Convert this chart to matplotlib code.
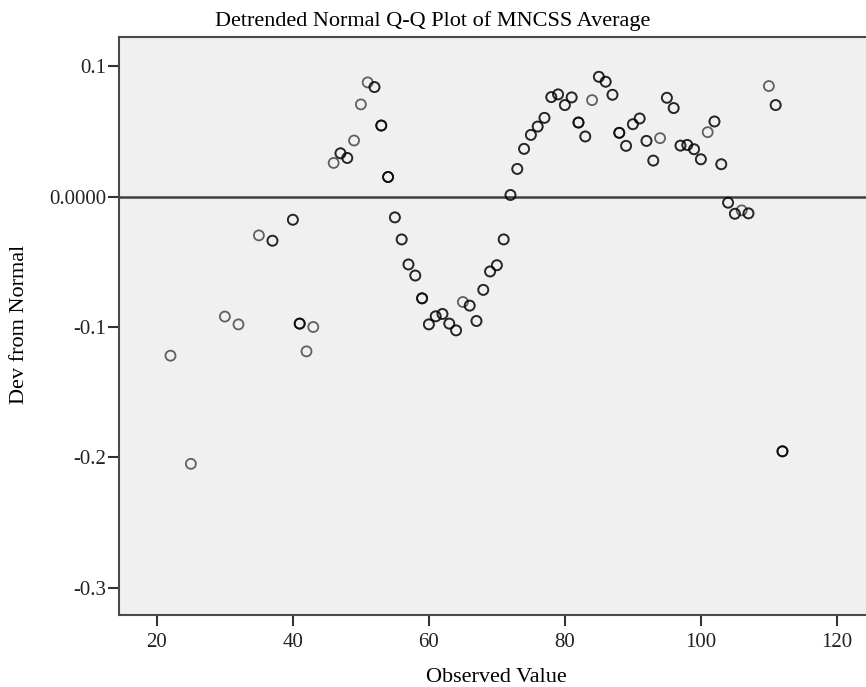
import matplotlib
matplotlib.use("Agg")
import matplotlib.pyplot as plt
import numpy as np

# observed value, deviation from normal, and number of cases drawn at that spot
observed = [22, 25, 30, 32, 35, 37, 40, 41, 42, 43, 46, 47, 48, 49, 50, 51, 52, 53, 54, 55,
            56, 57, 58, 59, 60, 61, 62, 63, 64, 65, 66, 67, 68, 69, 70, 71, 72, 73, 74, 75,
            76, 77, 78, 79, 80, 81, 82, 83, 84, 85, 86, 87, 88, 89, 90, 91, 92, 93, 94, 95,
            96, 97, 98, 99, 100, 101, 102, 103, 104, 105, 106, 107, 110, 111, 112]
dev = [-0.122, -0.205, -0.092, -0.098, -0.0297, -0.0338, -0.0177, -0.0974, -0.1187, -0.100,
       0.0259, 0.0333, 0.0297, 0.0431, 0.0708, 0.0877, 0.0841, 0.0546, 0.0151, -0.0159,
       -0.0328, -0.052, -0.0605, -0.078, -0.098, -0.0918, -0.090, -0.0974, -0.1026, -0.0808,
       -0.0836, -0.0954, -0.0715, -0.0574, -0.0526, -0.0328, 0.0013, 0.0213, 0.0367, 0.0474,
       0.0538, 0.0605, 0.0764, 0.0785, 0.0703, 0.0762, 0.0569, 0.0462, 0.0741, 0.092,
       0.0882, 0.0782, 0.049, 0.039, 0.0556, 0.060, 0.0428, 0.0277, 0.0449, 0.0759,
       0.068, 0.0392, 0.0397, 0.0364, 0.0287, 0.0495, 0.0577, 0.0249, -0.0046, -0.0131,
       -0.0105, -0.0128, 0.0849, 0.0703, -0.1954]
cases = [1, 1, 1, 1, 1, 2, 2, 3, 1, 1, 1, 2, 2, 1, 1, 1, 2, 3, 3, 2,
         2, 2, 2, 3, 2, 2, 2, 2, 2, 1, 2, 2, 2, 2, 2, 2, 2, 2, 2, 2,
         2, 2, 2, 2, 2, 2, 3, 2, 1, 2, 2, 2, 3, 2, 2, 2, 2, 2, 1, 2,
         2, 2, 2, 2, 2, 1, 2, 2, 2, 2, 1, 2, 1, 2, 3]

yticks = [0.1, 0.0, -0.1, -0.2, -0.3]
ytick_labels = ["0.1", "0.0000", "-0.1", "-0.2", "-0.3"]
xticks = [20, 40, 60, 80, 100, 120]

W, H = 866, 687
fig = plt.figure(figsize=(W / 100, H / 100), dpi=100)
fig.patch.set_facecolor("white")

left, right, top, bottom = 119, 874, 37.3, 615
ax = fig.add_axes([left / W, 1 - bottom / H, (right - left) / W, (bottom - top) / H])
ax.set_facecolor("#f0f0f0")

# draw each case so stacked ones come out darker
x = np.repeat(observed, cases)
y = np.repeat(dev, cases)
ax.scatter(x, y, s=52, facecolors="none", edgecolors=(0, 0, 0, 0.6), linewidths=1.3, zorder=3)

ax.axhline(0, color="#404040", lw=1.8, zorder=2)

ax.set_xlim(14.43, 125.46)
ax.set_ylim(-0.321, 0.1223)

ax.set_xticks(xticks)
ax.set_yticks(yticks)
ax.set_yticklabels(ytick_labels)

for side in ["left", "bottom", "top", "right"]:
    ax.spines[side].set_color("#4a4a4a")
    ax.spines[side].set_linewidth(1.5)

ax.tick_params(axis="both", direction="out", length=8, width=1.5, color="#333333",
               labelcolor="#222222", labelsize=15)
ax.tick_params(axis="y", pad=1)
ax.tick_params(axis="x", pad=5)
for lab in ax.get_xticklabels() + ax.get_yticklabels():
    lab.set_family("Liberation Serif")

fig.text(0.5, 1 - 21 / H, "Detrended Normal Q-Q Plot of MNCSS Average",
         ha="center", va="center", family="Liberation Serif", fontsize=16)
fig.text((left + right) / 2 / W, 1 - 677 / H, "Observed Value",
         ha="center", va="center", family="Liberation Serif", fontsize=16)
fig.text(20 / W, 1 - 324 / H, "Dev from Normal", rotation=90,
         ha="center", va="center", family="Liberation Serif", fontsize=16)

fig.savefig("out.png", dpi=100)
